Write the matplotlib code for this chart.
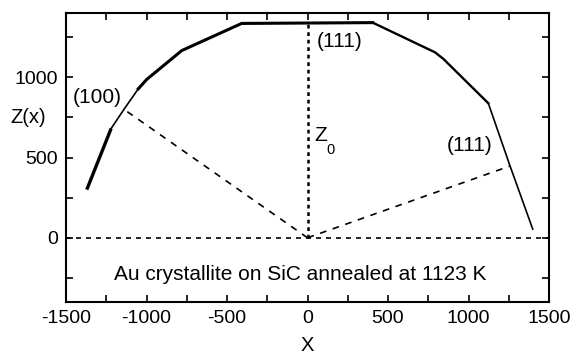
import matplotlib.pyplot as plt

plt.rcParams['font.family'] = ['Liberation Sans', 'DejaVu Sans']
plt.rcParams['axes.unicode_minus'] = False

# crystallite profile, split where the line weight changes
left_thick_x = [-1371, -1220]
left_thick_y = [300, 680]
left_thin_x = [-1220, -1140, -1051]
left_thin_y = [680, 800, 928]
upper_x = [-1051, -999, -781, -409, 405]
upper_y = [928, 986, 1166, 1335, 1340]
right_x = [405, 792, 844, 1123]
right_y = [1340, 1155, 1114, 838]
right_thin_x = [1123, 1258, 1399]
right_thin_y = [838, 447, 54]

# construction lines from the Wulff point
z0 = 1340
facet100 = (-1140, 800)
facet111 = (1258, 447)

fig = plt.figure(figsize=(5.72, 3.62), dpi=100)
ax = fig.add_axes([0.1154, 0.1657, 0.8444, 0.7984])

ax.plot(left_thick_x, left_thick_y, color='black', lw=2.4, solid_capstyle='butt')
ax.plot(left_thin_x, left_thin_y, color='black', lw=1.2)
ax.plot(upper_x, upper_y, color='black', lw=2.2)
ax.plot(right_x, right_y, color='black', lw=1.7)
ax.plot(right_thin_x, right_thin_y, color='black', lw=1.2)

ax.axhline(0, color='black', lw=1.2, ls=(0, (3, 3)))
ax.plot([0, 0], [0, z0], color='black', lw=1.8, ls=(0, (1.5, 1.5)))
ax.plot([0, facet100[0]], [0, facet100[1]], color='black', lw=1.2, ls=(0, (4, 4)))
ax.plot([0, facet111[0]], [0, facet111[1]], color='black', lw=1.2, ls=(0, (4, 4)))

ax.text(-1307, 874, '(100)', fontsize=15, ha='center', va='center')
ax.text(202, 1222, '(111)', fontsize=15, ha='center', va='center')
ax.text(1009, 576, '(111)', fontsize=15, ha='center', va='center')
ax.text(45, 635, 'Z', fontsize=15, ha='left', va='center')
ax.text(120, 545, '0', fontsize=10.5, ha='left', va='center')
ax.text(-45, -231, 'Au crystallite on SiC annealed at 1123 K', fontsize=15,
        ha='center', va='center')

ax.set_xlim(-1500, 1500)
ax.set_ylim(-400, 1400)
ax.set_xticks([-1500, -1000, -500, 0, 500, 1000, 1500])
ax.set_xticks(range(-1500, 1501, 250), minor=True)
ax.set_yticks([0, 500, 1000])
ax.set_yticks(range(-250, 1400, 250), minor=True)
ax.tick_params(which='both', direction='in', top=True, right=True, length=5, width=1.2,
               labelsize=14, pad=6)
for s in ax.spines.values():
    s.set_linewidth(1.5)

ax.set_xlabel('X', fontsize=14.5)
ax.xaxis.set_label_coords(0.5, -0.149)
ax.xaxis.label.set_va('center')
ax.set_ylabel('Z(x)', fontsize=14.5, rotation=0, ha='center', va='center')
ax.yaxis.set_label_coords(-0.079, 0.637)

fig.savefig('out.png', dpi=100)
